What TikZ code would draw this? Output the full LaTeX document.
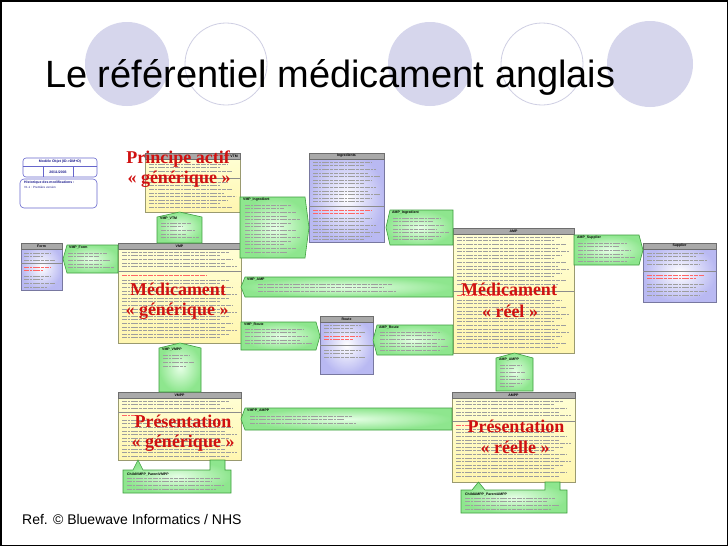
\documentclass[tikz,border=0pt]{standalone}
\usepackage{fontspec}
\setmainfont{Liberation Sans}
\newfontfamily\labfont{Liberation Serif}
\definecolor{lav}{HTML}{D6D6EC}
\definecolor{lavline}{HTML}{CFCFE3}
\definecolor{yTop}{HTML}{FFFFD6}
\definecolor{yBot}{HTML}{FFF6B0}
\definecolor{yBorder}{HTML}{9A9A70}
\definecolor{hdrfill}{HTML}{A9A9A9}
\definecolor{hdrline}{HTML}{6E6E6E}
\definecolor{pOut}{HTML}{B9B9F2}
\definecolor{pBorder}{HTML}{7878A0}
\definecolor{gIn}{HTML}{E6FFE6}
\definecolor{gOut}{HTML}{8EE68E}
\definecolor{gBorder}{HTML}{3E9E3E}
\definecolor{labred}{HTML}{D01010}
\definecolor{blueb}{HTML}{6666CC}
\definecolor{bluetxt}{HTML}{1A1A8C}
\tikzset{
  ybox/.style={draw=yBorder, line width=0.6pt, top color=yTop, bottom color=yBot},
  pbox/.style={draw=pBorder, line width=0.6pt, inner color=white, outer color=pOut},
  gnote/.style={draw=gBorder, line width=0.6pt, inner color=gIn, outer color=gOut},
  hdr/.style={draw=hdrline, fill=hdrfill, line width=0.5pt},
  divl/.style={draw=black!45, line width=0.5pt},
  hdrtxt/.style={font=\fontsize{3.5}{4}\selectfont\bfseries, inner sep=0},
  ntitle/.style={font=\fontsize{3.5}{4}\selectfont\bfseries, inner sep=0, anchor=west},
  tinytxt/.style={font=\fontsize{3.5}{4}\selectfont\bfseries, text=bluetxt, inner sep=0},
  txt/.style={draw=black!38, line width=0.6pt, dash pattern=on 5pt off 1pt on 2pt off 1pt on 7pt off 1pt on 3pt off 1pt on 4pt off 1pt},
  txtr/.style={txt, draw=red!60},
  redlab/.style={font=\labfont\bfseries\fontsize{18}{20}\selectfont, text=labred, inner sep=0, anchor=base},
}
% text texture: [style] x1 x2 y0 n
\newcommand\txl[5][txt]{%
  \foreach \k in {1,...,#5}{\draw[#1] (#2,{#4+(\k-1)*3.6}) -- ({#3-mod(\k*7,5)*4},{#4+(\k-1)*3.6});}%
}
% class box: name x1 y1 x2 y2 style title divider
\newcommand\cbox[8]{%
  \path[#6] (#2,#3) rectangle (#4,#5);
  \draw[hdr] (#2,#3) rectangle (#4,{#3+6});
  \draw[divl] (#2,#8) -- (#4,#8);
  \node[hdrtxt] (#1) at ({(#2+#4)/2},{#3+3}) {#7};
}
\newcommand\noteL[6]{%
  \path[gnote] (#2,{(#3+#5)/2}) -- ({#2+4},#3) -- (#4,#3) -- (#4,#5) -- ({#2+4},#5) -- cycle;
  \node[ntitle] (#1) at ({#2+6},{#3+3}) {#6};
}
\newcommand\noteR[6]{%
  \path[gnote] (#2,#3) -- ({#4-4},#3) -- (#4,{(#3+#5)/2}) -- ({#4-4},#5) -- (#2,#5) -- cycle;
  \node[ntitle] (#1) at ({#2+3},{#3+3}) {#6};
}
\newcommand\noteT[6]{%
  \path[gnote] (#2,{#3+5}) -- ({(#2+#4)/2},#3) -- (#4,{#3+5}) -- (#4,#5) -- (#2,#5) -- cycle;
  \node[ntitle] (#1) at ({#2+3},{#3+7}) {#6};
}
\begin{document}
\begin{tikzpicture}[x=1pt,y=-1pt]
\useasboundingbox (0,0) rectangle (728,546);
\fill[white] (0,0) rectangle (728,546);
\draw[black, line width=1.5pt] (0.75,0.75) rectangle (727.25,545.25);

% decorative circles
\fill[lav] (127,64) circle (42pt);
\draw[lavline, fill=white, line width=0.8pt] (226,64) circle (41pt);
\fill[lav] (430,64) circle (42pt);
\draw[lavline, fill=white, line width=0.8pt] (542,64) circle (41pt);
\fill[lav] (650,64) circle (43pt);

\node[anchor=base west, inner sep=0, font=\fontsize{38}{40}\selectfont] (title) at (45,87) {Le référentiel médicament anglais};

% title block
\draw[blueb, line width=0.6pt, rounded corners=3pt] (23,158) rectangle (97,177);
\draw[blueb, line width=0.5pt] (23,166.5) -- (97,166.5);
\draw[blueb, line width=0.5pt] (43,166.5) -- (43,177) (73,166.5) -- (73,177);
\node[tinytxt] (mo) at (60,162) {Modèle Objet (ID->DM+D)};
\node[tinytxt] (dt) at (58,171.8) {20/11/2003};
\draw[blueb, line width=0.6pt, rounded corners=4pt] (20,179) rectangle (97,208);
\node[tinytxt, anchor=west] (hist) at (24,183) {Historique des modifications :};
\node[tinytxt, anchor=west, font=\fontsize{3}{4}\selectfont] (v11) at (24,187) {V1.1 : Première version};

% classes
\path[ybox] (145,153) rectangle (240,212);
\draw[hdr] (145,153) rectangle (240,159);
\draw[divl] (145,178) -- (240,178);
\node[hdrtxt, anchor=east] (vtm) at (238,156) {VTM};
\txl{149}{236}{164}{3}\txl[txtr]{149}{220}{175}{1}\txl{149}{236}{182}{8}

\cbox{vmp}{118}{243}{241}{343}{ybox}{VMP}{271}
\txl{122}{237}{252}{5}\txl[txtr]{122}{215}{275}{1}\txl{122}{237}{280}{17}

\cbox{form}{21}{243}{62}{290}{pbox}{Form}{263}
\txl{24}{59}{253}{3}\txl[txtr]{24}{59}{267}{2}\txl{24}{59}{276}{4}

\cbox{ingr}{309}{153}{384}{242}{pbox}{Ingredients}{206}
\txl{313}{380}{162}{12}\txl[txtr]{313}{380}{210}{2}\txl{313}{380}{218}{7}

\cbox{amp}{453}{228}{574}{353}{ybox}{AMP}{291}
\txl{457}{570}{237}{14}\txl[txtr]{457}{540}{295}{1}\txl{457}{570}{300}{14}

\cbox{supp}{643}{243}{716}{302}{pbox}{Supplier}{271}
\txl{647}{712}{253}{4}\txl[txtr]{647}{712}{275}{2}\txl{647}{712}{284}{4}

\cbox{route}{320}{316}{373}{374}{pbox}{Route}{345}
\txl{324}{369}{325}{3}\txl[txtr]{324}{369}{335.8}{2}\txl{324}{369}{350}{3}

\cbox{vmpp}{118}{392}{241}{460}{ybox}{VMPP}{412}
\txl{122}{237}{401}{3}\txl[txtr]{122}{150}{415.5}{1}\txl{122}{237}{420}{11}

\cbox{ampp}{452}{392}{575}{482}{ybox}{AMPP}{421}
\txl{456}{571}{401}{5}\txl[txtr]{456}{480}{425}{1}\txl{456}{571}{429}{14}

% association notes
\noteT{vmpvtm}{157}{212}{202}{243}{VMP\_VTM}
\txl{161}{199}{223}{5}

\noteL{vmpform}{63}{245}{118}{273}{VMP\_Form}
\txl{68}{115}{253}{5}

\noteR{vmping}{240}{197}{309}{258}{VMP\_Ingredient}
\txl{245}{300}{205}{14}

\noteL{amping}{386}{210}{453}{245}{AMP\_Ingredient}
\txl{393}{449}{218}{7}

\noteR{ampsup}{574}{235}{643}{265}{AMP\_Supplier}
\txl{578}{635}{243}{6}

\noteL{vmpamp}{241}{277}{453}{297}{VMP\_AMP}
\txl{258}{400}{284}{3}

\noteR{vmproute}{241}{322}{320}{350}{VMP\_Route}
\txl{245}{312}{329}{5}

\noteL{amproute}{373}{325}{453}{355}{AMP\_Route}
\txl{380}{449}{332}{6}

\noteT{vmpvmpp}{159}{343}{201}{392}{VMP\_VMPP}
\txl{163}{198}{355}{4}

\noteL{vmppampp}{241}{408}{452}{430}{VMPP\_AMPP}
\txl{250}{360}{416}{3}

\noteT{ampampp}{496}{353}{533}{391}{AMP\_AMPP}
\txl{500}{530}{365}{7}

\path[gnote] (123,470) -- (133,470) -- (138,460) -- (143,470) -- (210,470) -- (210,460) -- (225,460) -- (225,470) -- (231,470) -- (231,493) -- (123,493) -- cycle;
\node[ntitle] (cvmpp) at (127,474) {ChildVMPP\_ParentVMPP};
\txl{127}{228}{478}{4}

\path[gnote] (461,490) -- (472,490) -- (478.5,482) -- (485,490) -- (545,490) -- (545,482) -- (560,482) -- (560,490) -- (567,490) -- (567,513) -- (461,513) -- cycle;
\node[ntitle] (campp) at (465,494) {ChildAMPP\_ParentAMPP};
\txl{465}{563}{498}{4}

% red labels
\node[redlab] (pa1) at (178,163) {Principe actif};
\node[redlab] (pa2) at (179,183) {«~générique~»};
\node[redlab] (mg1) at (178,295) {Médicament};
\node[redlab] (mg2) at (177,315) {«~générique~»};
\node[redlab] (mr1) at (509,295) {Médicament};
\node[redlab] (mr2) at (510,317) {«~réel~»};
\node[redlab] (pg1) at (183,427) {Présentation};
\node[redlab] (pg2) at (183,447) {«~générique~»};
\node[redlab] (pr1) at (516,432) {Présentation};
\node[redlab] (pr2) at (515,453) {«~réelle~»};

\node[anchor=base west, inner sep=0, font=\fontsize{14}{16}\selectfont] (ref) at (22,524) {Ref. © Bluewave Informatics / NHS};
\end{tikzpicture}
\end{document}
